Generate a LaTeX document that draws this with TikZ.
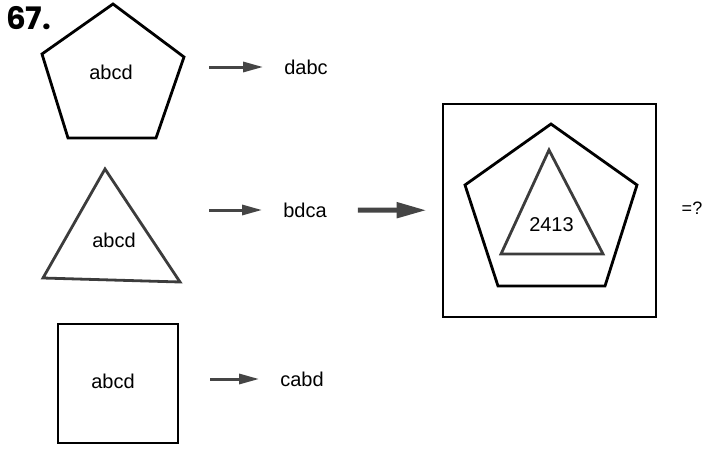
\documentclass[tikz,border=0pt]{standalone}
\usepackage{fontspec}
\setmainfont{Liberation Sans}
\newfontfamily\numfont{Poppins}
\usetikzlibrary{arrows.meta,positioning,calc}
\definecolor{arrowgray}{HTML}{454545}
\definecolor{trigray}{HTML}{3C3C3C}

\begin{document}
\begin{tikzpicture}[
    x=1pt, y=-1pt,
    outline/.style={draw, line width=2.8pt, line join=miter},
    triline/.style={draw=trigray, line width=2.8pt, line join=miter},
    word/.style={inner sep=0pt, font=\fontsize{20}{24}\selectfont},
    arr/.style={draw=arrowgray, line width=3pt, -{Triangle[length=20pt,width=10pt]}, shorten >=21pt},
    bigarr/.style={draw=arrowgray, line width=5pt, -{Triangle[length=30pt,width=15pt]}, shorten <=31pt, shorten >=15pt}
  ]
  \useasboundingbox (0,0) rectangle (705,448);
  \node[anchor=base west, inner sep=0pt, font=\numfont\bfseries\fontsize{31}{36}\selectfont] (num) at (6,29) {67.};

  % first row: pentagon
  \draw[outline] (113,4) -- (184,57) -- (156,138) -- (68,138) -- (42,54) -- cycle;
  \node[word] (pentA) at (111,72) {abcd};
  \node[word] (dabc) at (306,67) {dabc};
  \coordinate (a1) at (209,67);
  \draw[arr] (a1) -- (dabc);

  % second row: triangle
  \draw[triline] (105,169) -- (180,282) -- (43,278) -- cycle;
  \node[word] (triA) at (114,240) {abcd};
  \node[word] (bdca) at (305,210) {bdca};
  \coordinate (a2) at (209,210);
  \draw[arr] (a2) -- (bdca);

  % third row: square
  \node[draw, line width=2.8pt, minimum width=120pt, minimum height=119pt, word] (sq) at (118,383.5) {};
  \node[word] (sqA) at (113,381) {abcd};
  \node[word] (cabd) at (302,379) {cabd};
  \coordinate (a3) at (210,379);
  \draw[arr] (a3) -- (cabd);

  % combined figure
  \node[draw, line width=2.8pt, minimum width=213pt, minimum height=213pt, inner sep=0pt] (box) at (549.5,210.5) {};
  \draw[outline] (551,124) -- (637,185) -- (605,286) -- (498,286) -- (465,185) -- cycle;
  \draw[triline] (549,150) -- (603,254) -- (501,254) -- cycle;
  \node[word] (code) at (551.5,225) {2413};
  \node[inner sep=0pt, font=\fontsize{18}{22}\selectfont] (ask) at (692,208) {=?};
  \draw[bigarr] (bdca) -- (box);
\end{tikzpicture}
\end{document}
